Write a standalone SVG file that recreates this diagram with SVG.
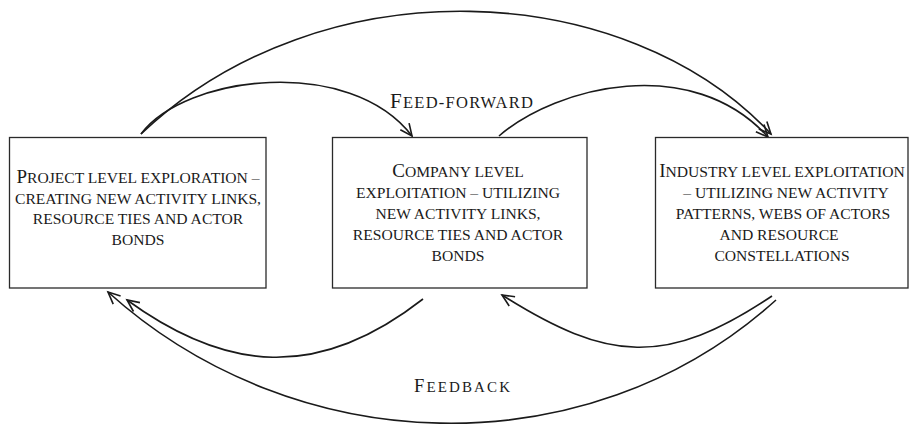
<svg xmlns="http://www.w3.org/2000/svg" width="909" height="427" viewBox="0 0 909 427">
<style>
  text { font-family: "Liberation Serif", "Times New Roman", serif; fill: #1a1a1a; font-size: 15.6px; }
  .c { text-anchor: middle; }
  .big { font-size: 19px; }
  .box { fill: #ffffff; stroke: #2a2a2a; stroke-width: 1.3; }
  .conn { fill: none; stroke: #1a1a1a; stroke-width: 1.6; }
</style>
<defs>
  <marker id="arr" markerUnits="userSpaceOnUse" markerWidth="30" markerHeight="30" refX="0" refY="0" viewBox="-15 -15 30 30" orient="auto" overflow="visible">
    <path d="M-12,-5.5 L0,0 L-12,5.5" fill="none" stroke="#1a1a1a" stroke-width="1.6" stroke-linejoin="miter"/>
  </marker>
</defs>
<rect width="909" height="427" fill="#ffffff"/>

<g id="connectors">
  <path class="conn" d="M141,134 C185,75 350,55 412,136" marker-end="url(#arr)"/>
  <path class="conn" d="M141,134 C322,-38 627,-21 771,134" marker-end="url(#arr)"/>
  <path class="conn" d="M499,136 C557,86 692,53 768,137" marker-end="url(#arr)"/>
  <path class="conn" d="M423,299 C318,381 226,372 127,300" marker-end="url(#arr)"/>
  <path class="conn" d="M772,296 C666,367 608,362 502,295" marker-end="url(#arr)"/>
  <path class="conn" d="M776,300 C585,472 293,459 108,292" marker-end="url(#arr)"/>
</g>

<g id="label-feedforward">
  <text x="390" y="108" textLength="143" lengthAdjust="spacing" style="font-size:16.5px"><tspan style="font-size:21px">F</tspan>EED-FORWARD</text>
</g>
<g id="label-feedback">
  <text x="414" y="392" textLength="96" lengthAdjust="spacing" style="font-size:15px"><tspan style="font-size:18.5px">F</tspan>EEDBACK</text>
</g>

<g id="node-project">
  <rect class="box" x="9.5" y="137.5" width="256.5" height="150.5"/>
  <text class="c" x="138" y="183"><tspan class="big">P</tspan>ROJECT LEVEL EXPLORATION –</text>
  <text class="c" x="138" y="203.5">CREATING NEW ACTIVITY LINKS,</text>
  <text class="c" x="138" y="224">RESOURCE TIES AND ACTOR</text>
  <text class="c" x="138" y="244.5">BONDS</text>
</g>

<g id="node-company">
  <rect class="box" x="332.5" y="137.5" width="254.5" height="150.5"/>
  <text class="c" x="458" y="177"><tspan class="big">C</tspan>OMPANY LEVEL</text>
  <text class="c" x="458" y="198">EXPLOITATION – UTILIZING</text>
  <text class="c" x="458" y="219">NEW ACTIVITY LINKS,</text>
  <text class="c" x="458" y="240">RESOURCE TIES AND ACTOR</text>
  <text class="c" x="458" y="260.5">BONDS</text>
</g>

<g id="node-industry">
  <rect class="box" x="655.5" y="137.5" width="252.5" height="150.5"/>
  <text class="c" x="782" y="177"><tspan class="big">I</tspan>NDUSTRY LEVEL EXPLOITATION</text>
  <text class="c" x="786" y="198">– UTILIZING NEW ACTIVITY</text>
  <text class="c" x="783" y="219">PATTERNS, WEBS OF ACTORS</text>
  <text class="c" x="779" y="240">AND RESOURCE</text>
  <text class="c" x="782" y="260.5">CONSTELLATIONS</text>
</g>
</svg>
